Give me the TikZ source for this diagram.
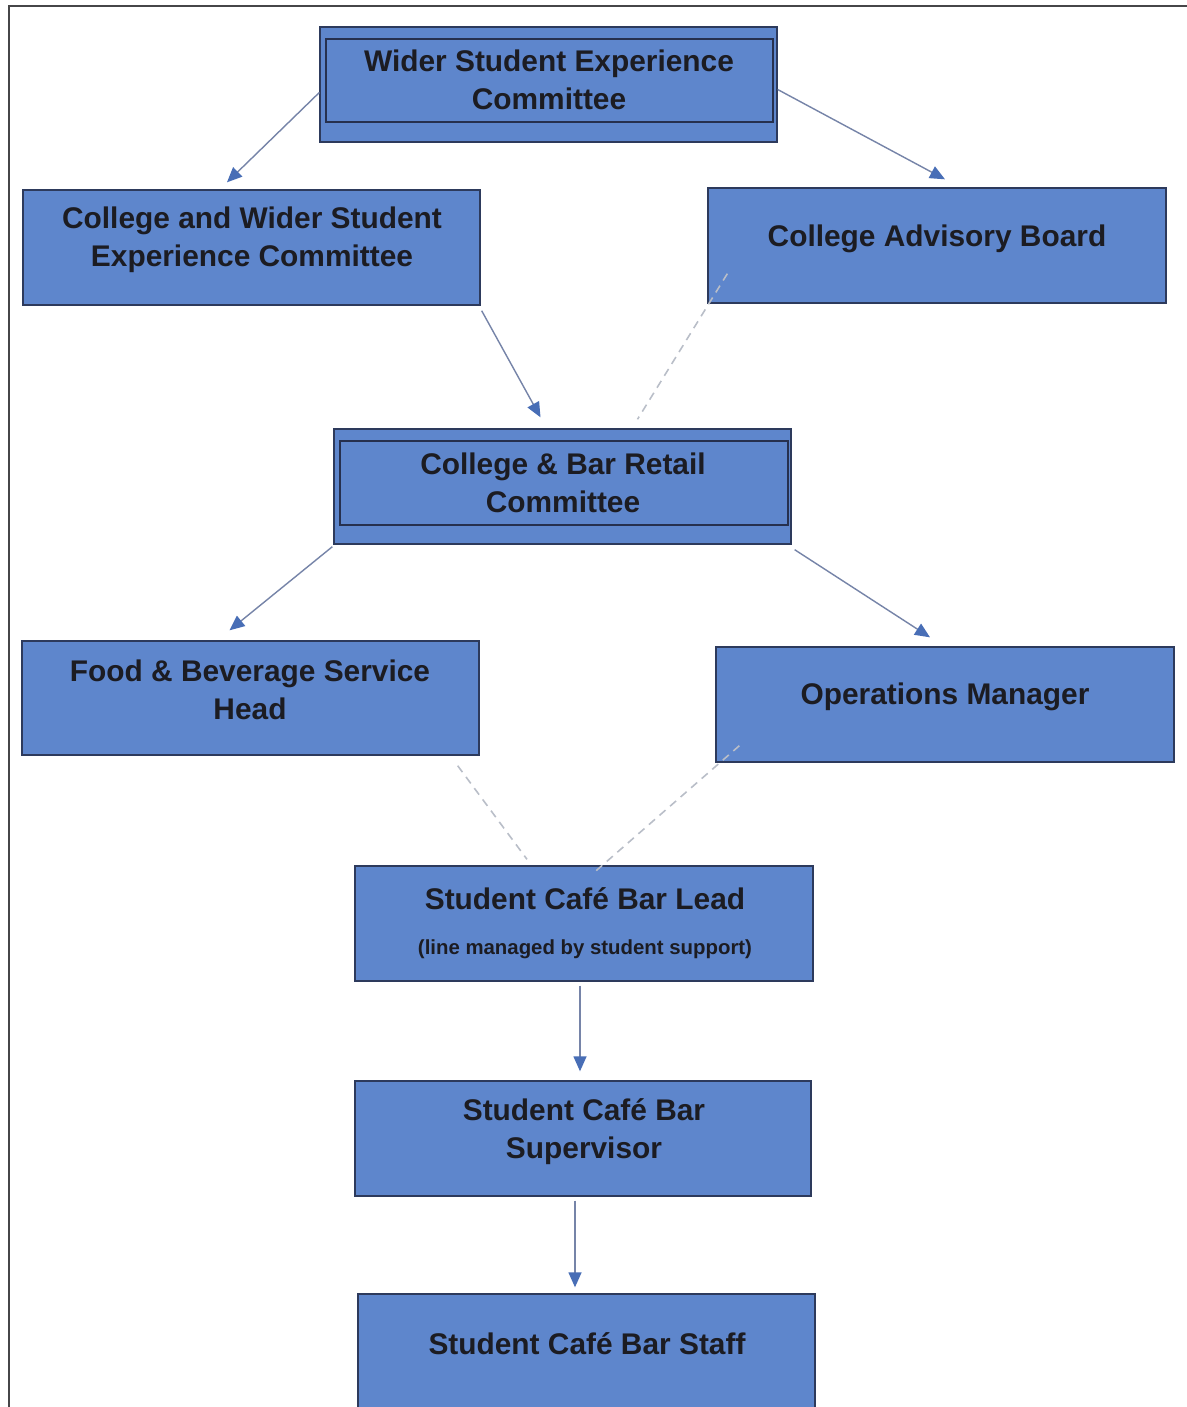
\documentclass[tikz,border=0pt]{standalone}
\usepackage{fontspec}
\setmainfont{Liberation Sans}
\usetikzlibrary{arrows.meta,calc}
\definecolor{boxblue}{RGB}{94,134,204}
\definecolor{boxline}{RGB}{45,58,92}
\definecolor{innerline}{RGB}{38,48,78}
\definecolor{txt}{RGB}{28,28,34}
\definecolor{linegray}{RGB}{118,132,168}
\definecolor{tipblue}{RGB}{72,110,182}
\definecolor{dashgray}{RGB}{185,190,200}
\definecolor{framegray}{RGB}{70,70,72}
\begin{document}
\begin{tikzpicture}[x=0.02cm,y=-0.02cm,
  box/.style={draw=boxline, fill=boxblue, line width=0.8pt, inner sep=0pt, minimum height=2.3cm},
  innerbox/.style={draw=innerline, line width=0.7pt, inner sep=0pt},
  lbl/.style={text=txt, align=center, inner sep=0pt, font=\fontsize{17}{21.6}\selectfont\bfseries},
  small/.style={text=txt, align=center, inner sep=0pt, font=\fontsize{11.6}{13}\selectfont\bfseries},
  arr/.style={draw=linegray, line width=0.8pt, -{Triangle[length=0.3cm,width=0.26cm,color=tipblue]}},
  dsh/.style={draw=dashgray, line width=0.9pt, dash pattern=on 0.16cm off 0.12cm}]
\clip (0,0) rectangle (1187,1407);
\fill[white] (0,0) rectangle (1187,1407);
% frame
\draw[framegray, line width=1.6pt] (8,6) -- (1187,6);
\draw[framegray, line width=1.3pt] (9,6) -- (9,1407);

% boxes
\node[box, minimum width=9.14cm] (b1) at (548.5,84.5) {};
\node[innerbox, minimum width=8.94cm, minimum height=1.66cm] (b1in) at (549.5,80.5) {};
\node[box, minimum width=9.14cm] (b2) at (251.5,247.5) {};
\node[box, minimum width=9.16cm] (b3) at (937,245.5) {};
\node[box, minimum width=9.14cm] (b4) at (562.5,486.5) {};
\node[innerbox, minimum width=8.96cm, minimum height=1.68cm] (b4in) at (564,483) {};
\node[box, minimum width=9.14cm, minimum height=2.28cm] (b5) at (250.5,698) {};
\node[box, minimum width=9.16cm] (b6) at (945,704.5) {};
\node[box, minimum width=9.16cm] (b7) at (584,923.5) {};
\node[box, minimum width=9.12cm] (b8) at (583,1138.5) {};
\node[box, minimum width=9.14cm, minimum height=2.52cm] (b9) at (586.5,1357) {};

% texts
\node[lbl] (t1) at (549,80) {Wider Student Experience\\Committee};
\node[lbl] (t2) at (252,240) {College and Wider Student\\Experience Committee};
\node[lbl] (t3) at (937,239) {College Advisory Board};
\node[lbl] (t4) at (563,482.5) {College \& Bar Retail\\Committee};
\node[lbl] (t5) at (250,690) {Food \& Beverage Service\\Head};
\node[lbl] (t6) at (945,697) {Operations Manager};
\node[lbl] (t7) at (585,899) {Student Café Bar Lead};
\node[small] (t7b) at (585,949) {(line managed by student support)};
\node[lbl] (t8) at (584,1132) {Student Café Bar\\Supervisor};
\node[lbl] (t9) at (587,1344) {Student Café Bar Staff};

% connectors
\draw[arr] ($(b1.west)+(0,8)$) -- ($(b2.north)+(-24.5,-7)$);
\draw[arr] ($(b1.east)+(0,5)$) -- ($(b3.north)+(8,-8)$);
\draw[arr] ($(b2.south east)+(1,5)$) -- ($(b4.north)+(-22,-11)$);
\draw[dsh] ($(b3.south west)+(20,-30)$) -- ($(b4.north)+(75,-9)$);
\draw[arr] ($(b4.south west)+(-1,2)$) -- ($(b5.north)+(-21,-10)$);
\draw[arr] ($(b4.south east)+(3,5)$) -- ($(b6.north)+(-15,-9)$);
\draw[dsh] ($(b5.south east)+(-22,10)$) -- ($(b7.north)+(-57,-6)$);
\draw[dsh] ($(b6.south west)+(24,-17)$) -- ($(b7.north)+(8,9)$);
\draw[arr] ($(b7.south)+(-4,4)$) -- ($(b8.north)+(-3,-9)$);
\draw[arr] ($(b8.south)+(-8,4)$) -- ($(b9.north)+(-11.5,-6)$);
\end{tikzpicture}
\end{document}
